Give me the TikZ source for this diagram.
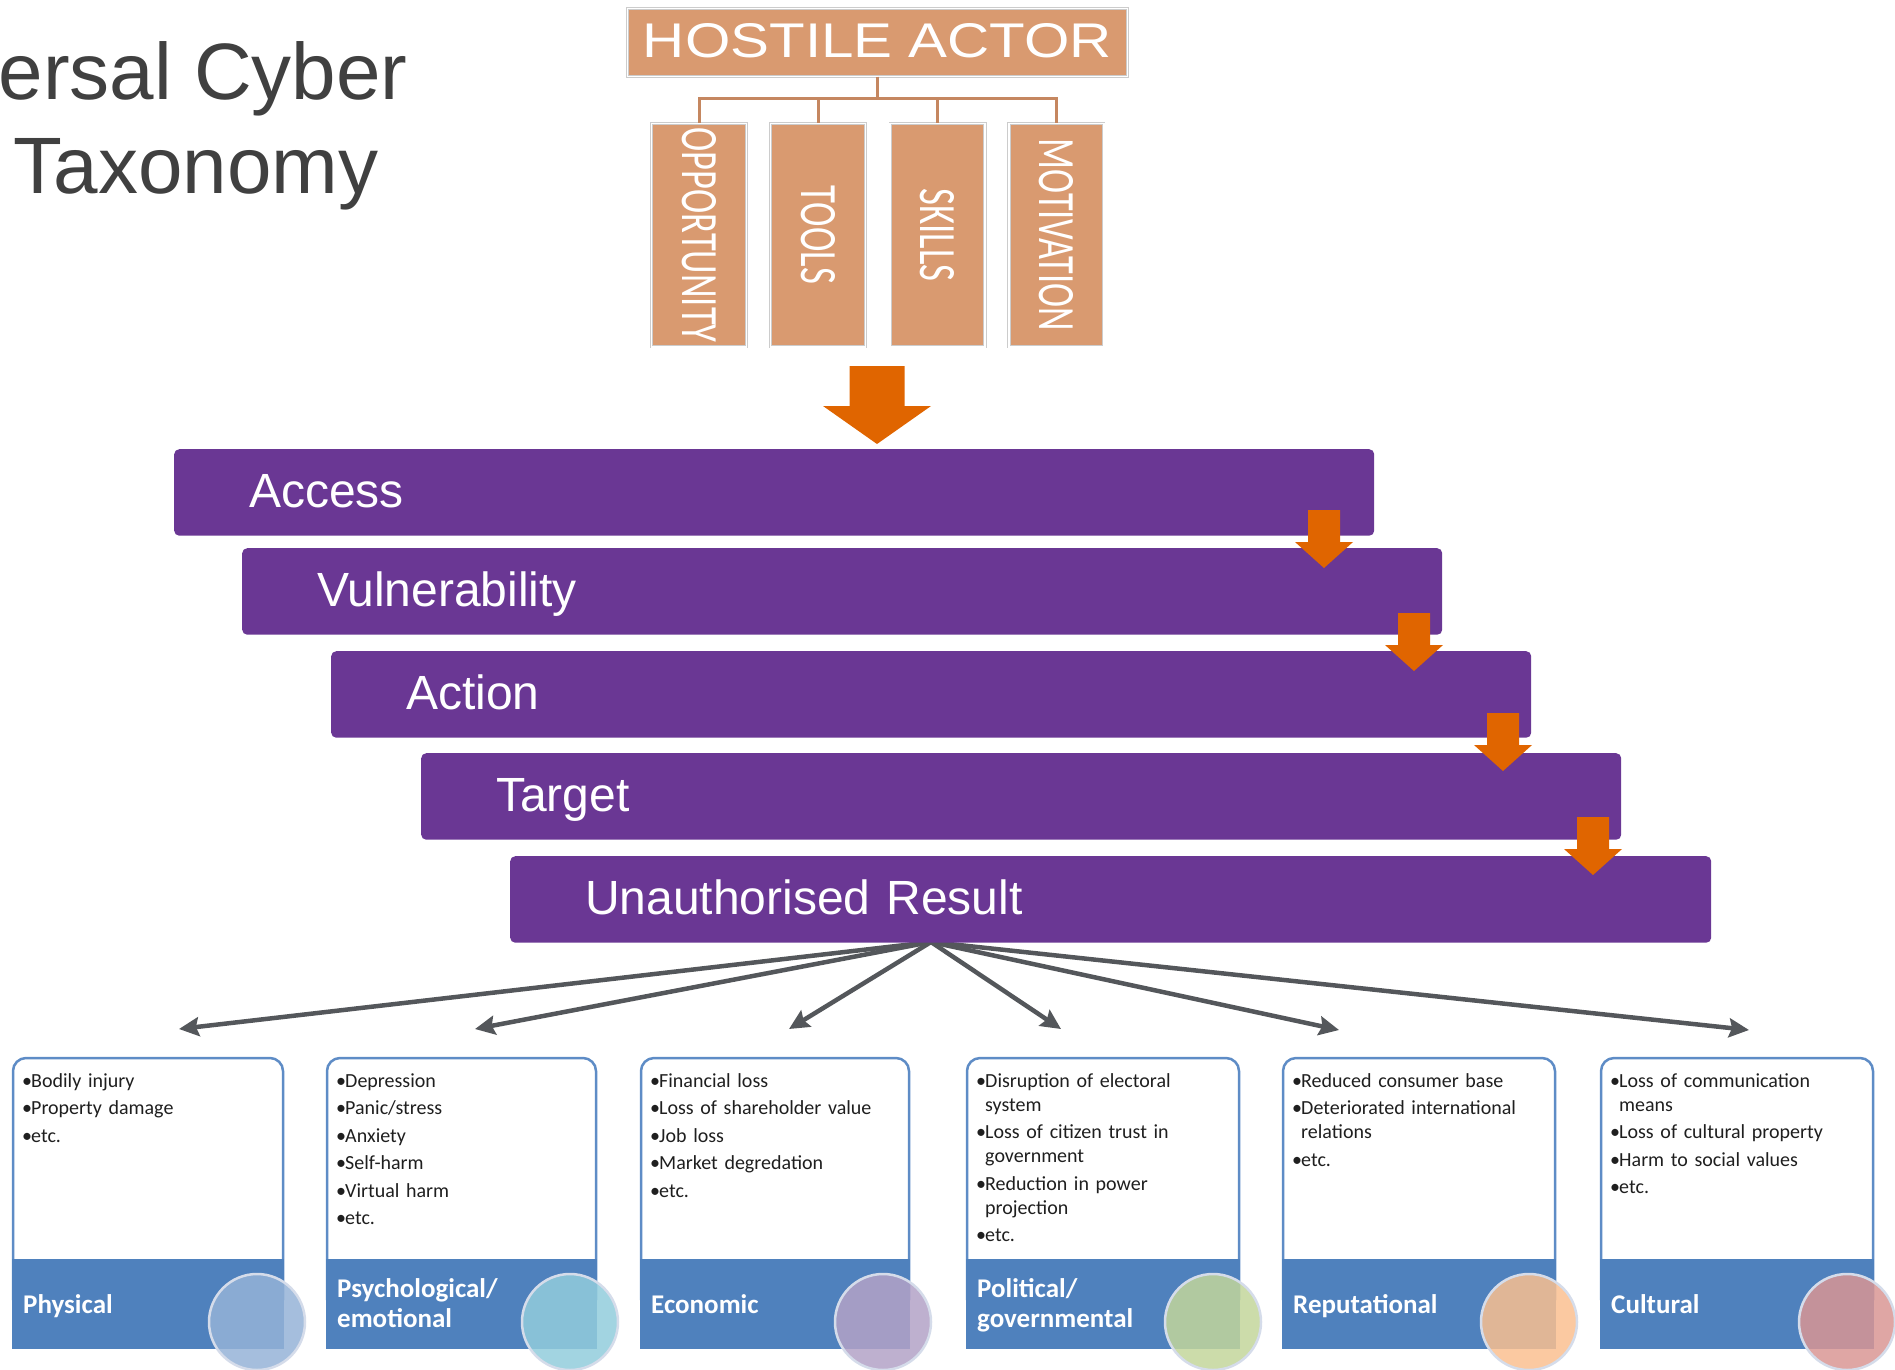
\documentclass[tikz,border=0pt]{standalone}
\usepackage{fontspec}
\setmainfont{Liberation Sans}
\newfontfamily\cardfont{Carlito}
\usetikzlibrary{arrows.meta,calc}

\definecolor{barpurple}{HTML}{6A3794}
\definecolor{flowarrow}{HTML}{E06500}
\definecolor{actortan}{HTML}{D99A70}
\definecolor{actorline}{HTML}{C58760}
\definecolor{titlegray}{HTML}{404040}
\definecolor{spokegray}{HTML}{54575B}
\definecolor{bandblue}{HTML}{4F81BD}
\definecolor{frameblue}{HTML}{5E8CC6}
\definecolor{ringgray}{HTML}{D5DCEA}
\definecolor{circphys}{HTML}{95B3D7}
\definecolor{circpsych}{HTML}{92CDDC}
\definecolor{circecon}{HTML}{B3A2C7}
\definecolor{circpol}{HTML}{C3D69B}
\definecolor{circrep}{HTML}{FAC090}
\definecolor{circcult}{HTML}{D99694}

% one bullet point with a hanging indent for wrapped lines;
% only items after the first one open a new paragraph
\newif\iffirstbullet
\newcommand\bitem[1]{%
  \iffirstbullet\global\firstbulletfalse\else\par\fi
  \noindent\hangindent=9pt\hangafter=1\makebox[9pt][l]{\textbullet}#1}

% harm card: name, left, right, circle colour, heading, heading baseline, items
\newcommand\harmcard[7]{%
  \path[cardface] (#2,1300) |- (#3,1058) -- (#3,1300);
  \fill[bandblue] ({#2-1},1259) rectangle ({#3+1},1349);
  \node[cardhead] (#1-head) at ({#2+10},#6) {#5};
  \node[cardlist] (#1-list) at ({#2+9},1087)
    {\parskip=3.5pt\relax\global\firstbullettrue#7};
  \path[cardring, fill=#4] ({#3-26},1322) circle[radius=48];
}

\tikzset{
  titletext/.style={anchor=base west, inner sep=0pt, text=titlegray,
    font=\fontsize{80}{96}\selectfont},
  actorbox/.style={fill=actortan, draw=black!20, line width=0.8pt, double=white,
    double distance=1.6pt, inner sep=0pt, text=white},
  factor/.style={actorbox, minimum width=94.8pt, minimum height=223.4pt},
  tree/.style={draw=actorline, line width=3pt},
  bar/.style={anchor=north west, fill=barpurple, rounded corners=5pt,
    minimum height=86.5pt, minimum width=1200pt, inner xsep=75pt, inner ysep=0pt,
    text width=1050pt, align=left, text=white,
    font=\fontsize{48}{56}\selectfont, text height=36pt, text depth=6pt},
  spoke/.style={draw=spokegray, line width=4.5pt,
    -{Stealth[length=20pt,width=19pt,inset=3pt]}},
  cardface/.style={fill=white, draw=frameblue, line width=2.5pt, rounded corners=13pt},
  cardhead/.style={anchor=base west, inner sep=0pt, text width=220pt, align=left,
    text=white, font=\cardfont\bfseries\fontsize{27}{30}\selectfont},
  cardlist/.style={anchor=base west, inner sep=0pt, text width=255pt, align=left,
    text=black!88, font=\cardfont\fontsize{20}{24}\selectfont},
  cardring/.style={draw=ringgray, line width=2.5pt, fill opacity=0.85},
  pics/downarrow/.style n args={4}{code={
    \fill[flowarrow] (-#1,0) -- (#1,0) -- (#1,#3) -- (#2,#3) -- (0,#3+#4)
      -- (-#2,#3) -- (-#1,#3) -- cycle;}}
}

\begin{document}
\begin{tikzpicture}[x=1pt,y=-1pt]
\useasboundingbox (0,0) rectangle (1895,1369);

% heading
\node[titletext] (title1) at (-1.5,99) {ersal Cyber};
\node[titletext] (title2) at (13.5,193) {Taxonomy};

% hostile actor and its four factors
\node[actorbox, minimum width=500pt, minimum height=68pt, text height=34pt, text depth=5pt]
  (ha) at (877.5,42.5) {\resizebox{469pt}{34pt}{HOSTILE ACTOR}};
\node[factor] (f1) at (699,235)   {\rotatebox{-90}{\resizebox{215pt}{34pt}{\cardfont OPPORTUNITY}}};
\node[factor] (f2) at (818,235)   {\rotatebox{-90}{\resizebox{98pt}{34pt}{\cardfont TOOLS}}};
\node[factor] (f3) at (937.5,235) {\rotatebox{-90}{\resizebox{93pt}{34pt}{\cardfont SKILLS}}};
\node[factor] (f4) at (1056.3,235){\rotatebox{-90}{\resizebox{192pt}{34pt}{\cardfont MOTIVATION}}};
\foreach \f in {f1,f2,f3,f4}
  \draw[tree] (ha.south) -- ++(0,22) -| (\f.north);

\pic at (877,366) {downarrow={27.5}{54}{40}{38}};

% spokes from the result bar to the harm categories
\coordinate (hub) at (931,942);
\coordinate (e1) at (179,1029);
\coordinate (e2) at (475,1029);
\coordinate (e3) at (789,1029);
\coordinate (e4) at (1061,1029);
\coordinate (e5) at (1339,1030);
\coordinate (e6) at (1749,1030);
\foreach \e in {e1,e2,e3,e4,e5,e6}
  \draw[spoke] (hub) -- (\e);

% the staircase of stages
\node[bar] (acc) at (174,449) {Access};
\node[bar] (vul) at (242,548) {Vulnerability};
\node[bar] (act) at (331,651) {Action};
\node[bar] (tgt) at (421,753) {Target};
\node[bar, minimum width=1201pt, text width=1051pt] (res) at (510,856) {Unauthorised Result};

\pic at (1324,510) {downarrow={16}{29}{32}{26}};
\pic at (1414,613) {downarrow={16}{29}{32}{26}};
\pic at (1503,713) {downarrow={16}{29}{32}{26}};
\pic at (1593,817) {downarrow={16}{29}{32}{26}};

% harm categories
\harmcard{phys}{13}{283}{circphys}{Physical}{1313}{%
  \bitem{Bodily injury}\bitem{Property damage}\bitem{etc.}}
\harmcard{psych}{327}{596}{circpsych}{Psychological/\\emotional}{1297}{%
  \bitem{Depression}\bitem{Panic/stress}\bitem{Anxiety}\bitem{Self-harm}%
  \bitem{Virtual harm}\bitem{etc.}}
\harmcard{econ}{641}{909}{circecon}{Economic}{1313}{%
  \bitem{Financial loss}\bitem{Loss of shareholder value}\bitem{Job loss}%
  \bitem{Market degredation}\bitem{etc.}}
\harmcard{pol}{967}{1239}{circpol}{Political/\\governmental}{1297}{%
  \bitem{Disruption of electoral\newline system}%
  \bitem{Loss of citizen trust in\newline government}%
  \bitem{Reduction in power\newline projection}\bitem{etc.}}
\harmcard{rep}{1283}{1555}{circrep}{Reputational}{1313}{%
  \bitem{Reduced consumer base}%
  \bitem{Deteriorated international\newline relations}\bitem{etc.}}
\harmcard{cult}{1601}{1873}{circcult}{Cultural}{1313}{%
  \bitem{Loss of communication\newline means}\bitem{Loss of cultural property}%
  \bitem{Harm to social values}\bitem{etc.}}

\end{tikzpicture}
\end{document}
